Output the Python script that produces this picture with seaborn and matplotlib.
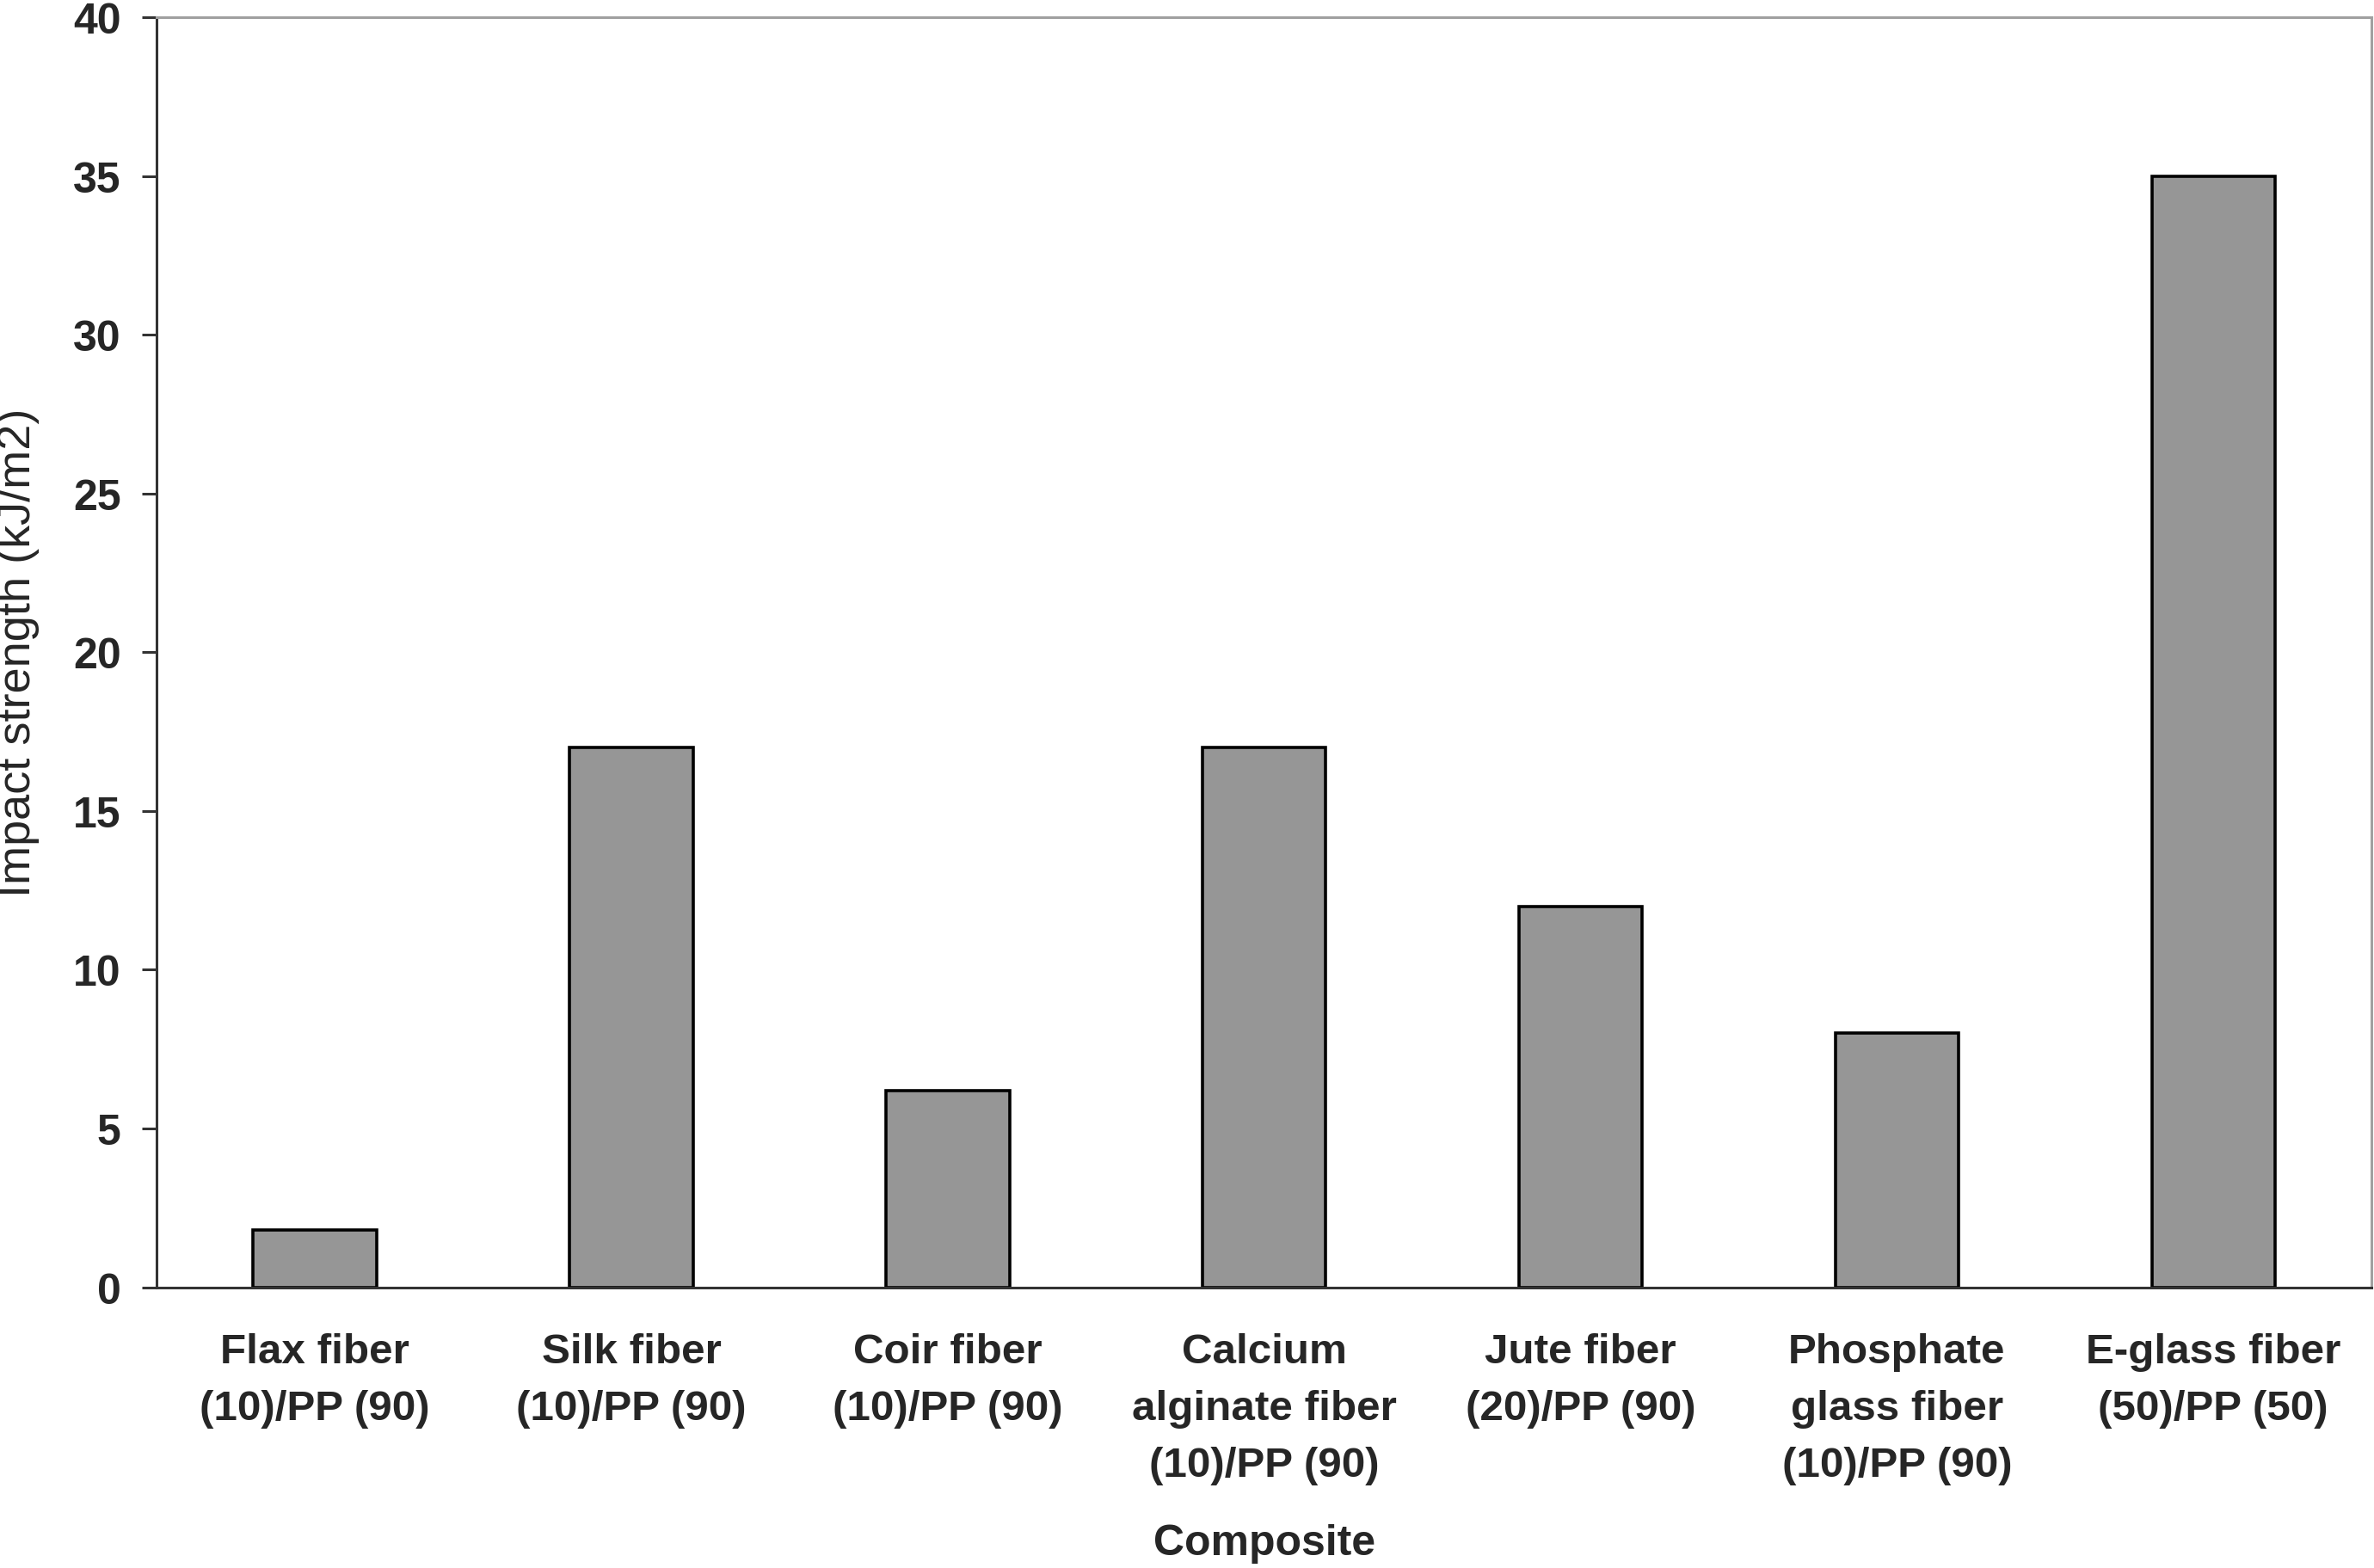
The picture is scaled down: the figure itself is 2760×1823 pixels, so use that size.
import numpy as np
import pandas as pd
import matplotlib
matplotlib.use("Agg")
import matplotlib.pyplot as plt
import seaborn as sns

# data
composites = [
    "Flax fiber\n(10)/PP (90)",
    "Silk fiber\n(10)/PP (90)",
    "Coir fiber\n(10)/PP (90)",
    "Calcium\nalginate fiber\n(10)/PP (90)",
    "Jute fiber\n(20)/PP (90)",
    "Phosphate\nglass fiber\n(10)/PP (90)",
    "E-glass fiber\n(50)/PP (50)",
]
impact_strength = [1.8, 17.0, 6.2, 17.0, 12.0, 8.0, 35.0]
y_ticks = [0, 5, 10, 15, 20, 25, 30, 35, 40]

df = pd.DataFrame({"Composite": composites, "Impact": impact_strength})

sns.set_style("white")
plt.rcParams["font.family"] = ["Liberation Sans", "DejaVu Sans"]

fig = plt.figure(figsize=(13.8, 9.12), dpi=200)
ax = fig.add_axes([0.066, 0.179, 0.933, 0.8095])

sns.barplot(data=df, x="Composite", y="Impact", color="#969696",
            saturation=1, width=0.39, edgecolor="black", linewidth=1.3, ax=ax)

ax.set_xlim(-0.5, len(composites) - 0.5)
ax.set_ylim(0, 40)
ax.set_yticks(y_ticks)
ax.set_yticklabels([str(t) for t in y_ticks], fontsize=18, fontweight="bold")

# category labels centred, tick marks at category boundaries
ax.set_xticks(range(len(composites)))
ax.set_xticklabels(composites, fontsize=17.8, fontweight="bold", linespacing=1.6)
ax.set_xticks(np.arange(-0.5, len(composites), 1.0), minor=True)
ax.tick_params(axis="x", which="major", length=0, pad=19)
ax.tick_params(axis="x", which="minor", length=6, width=1.1, color="#333333", direction="out")
ax.tick_params(axis="y", length=6, width=1.1, color="#333333", direction="out", pad=9, left=True)

ax.set_xlabel("Composite", fontsize=18, fontweight="bold", labelpad=16)
ax.set_ylabel("Impact strength (kJ/m2)", fontsize=19.5, labelpad=14)

for side in ["left", "bottom"]:
    ax.spines[side].set_color("#333333")
    ax.spines[side].set_linewidth(1.1)
for side in ["top", "right"]:
    ax.spines[side].set_color("#a0a0a0")
    ax.spines[side].set_linewidth(1.1)

fig.savefig("out.png", dpi=200, facecolor="white")
